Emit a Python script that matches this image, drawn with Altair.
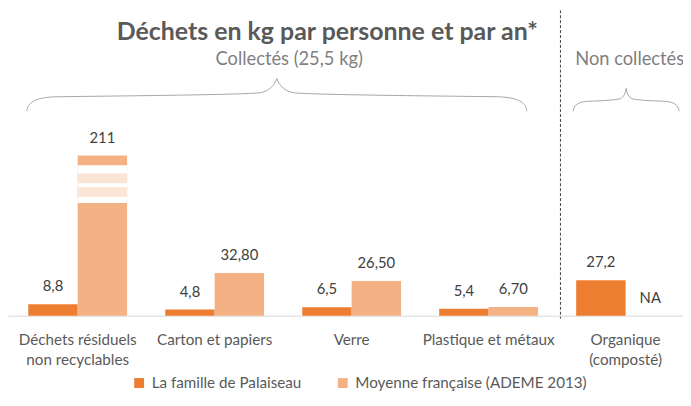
import altair as alt
import pandas as pd

# ---------------- data ----------------
categories = [
    "Déchets résiduels\nnon recyclables",
    "Carton et papiers",
    "Verre",
    "Plastique et métaux",
    "Organique\n(composté)",
]
series = ["La famille de Palaiseau", "Moyenne française (ADEME 2013)"]
famille = [8.8, 4.8, 6.5, 5.4, 27.2]
moyenne = [211, 32.8, 26.5, 6.7, None]
famille_labels = ["8,8", "4,8", "6,5", "5,4", "27,2"]
moyenne_labels = ["211", "32,80", "26,50", "6,70", "NA"]

title_text = "Déchets en kg par personne et par an*"
group_texts = ["Collectés (25,5 kg)", "Non collectés"]

# ---------------- style ----------------
COLORS = ["#ED7D31", "#F4B183"]
BREAK_COLOR = "#FBE5D6"
FONT = "Lato"
Y_MAX = 234          # top of the value scale
CAP = 122.7          # displayed height of a bar cut by the axis break
GAP = (86.4, 115.2)  # white gap of the break (value units)
BANDS = [(90.9, 98.5), (101.5, 109.1)]

rows = []
for i, cat in enumerate(categories):
    for s, vals, labs in ((series[0], famille, famille_labels), (series[1], moyenne, moyenne_labels)):
        v = vals[i]
        rows.append({
            "category": cat,
            "series": s,
            "value": v,
            "display": 0 if v is None else min(v, CAP),
            "label": labs[i],
        })
df = pd.DataFrame(rows)

broken = df[df["value"].fillna(0) > CAP]
gap_df = pd.DataFrame([{"category": r.category, "series": r.series, "y0": GAP[0], "y1": GAP[1]} for r in broken.itertuples()])
band_df = pd.DataFrame([{"category": r.category, "series": r.series, "y0": b[0], "y1": b[1]} for r in broken.itertuples() for b in BANDS])

x_enc = alt.X(
    "category:N",
    sort=categories,
    scale=alt.Scale(paddingInner=0.2785, paddingOuter=0.1032, align=0.717),
    axis=alt.Axis(
        title=None,
        labelExpr="split(datum.label, '\\n')",
        labelAngle=0,
        ticks=False,
        domainColor="#d9d9d9",
        domainWidth=1,
        labelFont=FONT,
        labelFontSize=15.4,
        labelColor="#595959",
        labelPadding=17,
        labelLineHeight=20,
    ),
)
xo_enc = alt.XOffset("series:N", sort=series, scale=alt.Scale(paddingInner=0, paddingOuter=0))
y_scale = alt.Scale(domain=[0, Y_MAX], nice=False, zero=True)

base = alt.Chart(df)

bars = base.mark_bar().transform_filter("datum.value != null").encode(
    x=x_enc,
    xOffset=xo_enc,
    y=alt.Y("display:Q", scale=y_scale, axis=None),
    color=alt.Color(
        "series:N",
        sort=series,
        scale=alt.Scale(domain=series, range=COLORS),
        legend=alt.Legend(
            orient="none",
            legendX=125,
            legendY=369,
            direction="horizontal",
            title=None,
            symbolType="square",
            symbolSize=100,
            symbolStrokeWidth=0,
            labelFont=FONT,
            labelFontSize=15.4,
            labelColor="#595959",
            labelOffset=5,
            columnPadding=34,
            labelLimit=300,
        ),
    ),
)

gaps = alt.Chart(gap_df).mark_bar(color="white").encode(
    x=alt.X("category:N", sort=categories),
    xOffset=alt.XOffset("series:N", sort=series),
    y=alt.Y("y0:Q", scale=y_scale),
    y2="y1:Q",
)
bands = alt.Chart(band_df).mark_bar(color=BREAK_COLOR).encode(
    x=alt.X("category:N", sort=categories),
    xOffset=alt.XOffset("series:N", sort=series),
    y=alt.Y("y0:Q", scale=y_scale),
    y2="y1:Q",
)

labels = base.mark_text(font=FONT, fontSize=15, color="#404040", dy=-18, baseline="middle").encode(
    x=alt.X("category:N", sort=categories),
    xOffset=alt.XOffset("series:N", sort=series),
    y=alt.Y("display:Q", scale=y_scale),
    text="label:N",
)

# ---------------- annotations ----------------
title = alt.Chart(pd.DataFrame({"t": [title_text]})).mark_text(
    font=FONT, fontSize=25.2, fontWeight="bold", color="#595959", align="center", baseline="middle"
).encode(x=alt.value(323), y=alt.value(22.5), text="t:N")

sub1 = alt.Chart(pd.DataFrame({"t": [group_texts[0]]})).mark_text(
    font=FONT, fontSize=18.5, color="#7f7f7f", align="center", baseline="middle"
).encode(x=alt.value(284.5), y=alt.value(49), text="t:N")

sub2 = alt.Chart(pd.DataFrame({"t": [group_texts[1]]})).mark_text(
    font=FONT, fontSize=18.5, color="#7f7f7f", align="left", baseline="middle"
).encode(x=alt.value(574), y=alt.value(49), text="t:N")


def brace_path(w, h, pts_half):
    """Curly brace path, normalised so that the width spans [-1, 1]."""
    def f(v):
        return f"{v / w:.4f}"
    out = [f"M{f(-w)},{f(h)}"]
    pts = [(-w, h)]
    for c in pts_half:
        out.append("C" + " ".join(f"{f(x)},{f(y)}" for x, y in c))
        pts.append(c[2])
    for k in range(len(pts_half) - 1, -1, -1):
        c = pts_half[k]
        start = pts[k]
        out.append("C" + " ".join(f"{f(-x)},{f(y)}" for x, y in (c[1], c[0], start)))
    return " ".join(out)


W1, H1 = 253, 16.5
big = brace_path(W1, H1, [
    [(-252, 8), (-245, 3), (-225, 2)],
    [(-150, 1), (-40, 0), (-18, -2)],
    [(-8, -3), (-2, -10), (0, -H1)],
])
W2, H2 = 53.5, 11.5
small = brace_path(W2, H2, [
    [(-53, 5), (-48, 2), (-38, 1.5)],
    [(-25, 1), (-12, 0.5), (-6, -1)],
    [(-2, -3), (-0.5, -7), (0, -H2)],
])

brace1 = alt.Chart(pd.DataFrame({"t": [0]})).mark_point(
    shape=big, filled=False, stroke="#a6a6a6", strokeWidth=1, opacity=1, size=(2 * W1) ** 2
).encode(x=alt.value(272), y=alt.value(85.5))
brace2 = alt.Chart(pd.DataFrame({"t": [0]})).mark_point(
    shape=small, filled=False, stroke="#a6a6a6", strokeWidth=1, opacity=1, size=(2 * W2) ** 2
).encode(x=alt.value(625.5), y=alt.value(90.5))

sep = alt.Chart(pd.DataFrame({"t": [0]})).mark_rule(strokeDash=[3, 2], color="#404040", strokeWidth=1).encode(
    x=alt.value(559), y=alt.value(0), y2=alt.value(312)
)

chart = alt.layer(bars, gaps, bands, labels, title, sub1, sub2, brace1, brace2, sep).properties(
    width=683,
    height=309,
    autosize=alt.AutoSizeParams(type="none"),
    padding={"left": 0, "right": 0, "top": 0, "bottom": 86},
).configure_view(stroke=None)

chart.save("out.html", embed_options={"renderer": "svg", "actions": False})
